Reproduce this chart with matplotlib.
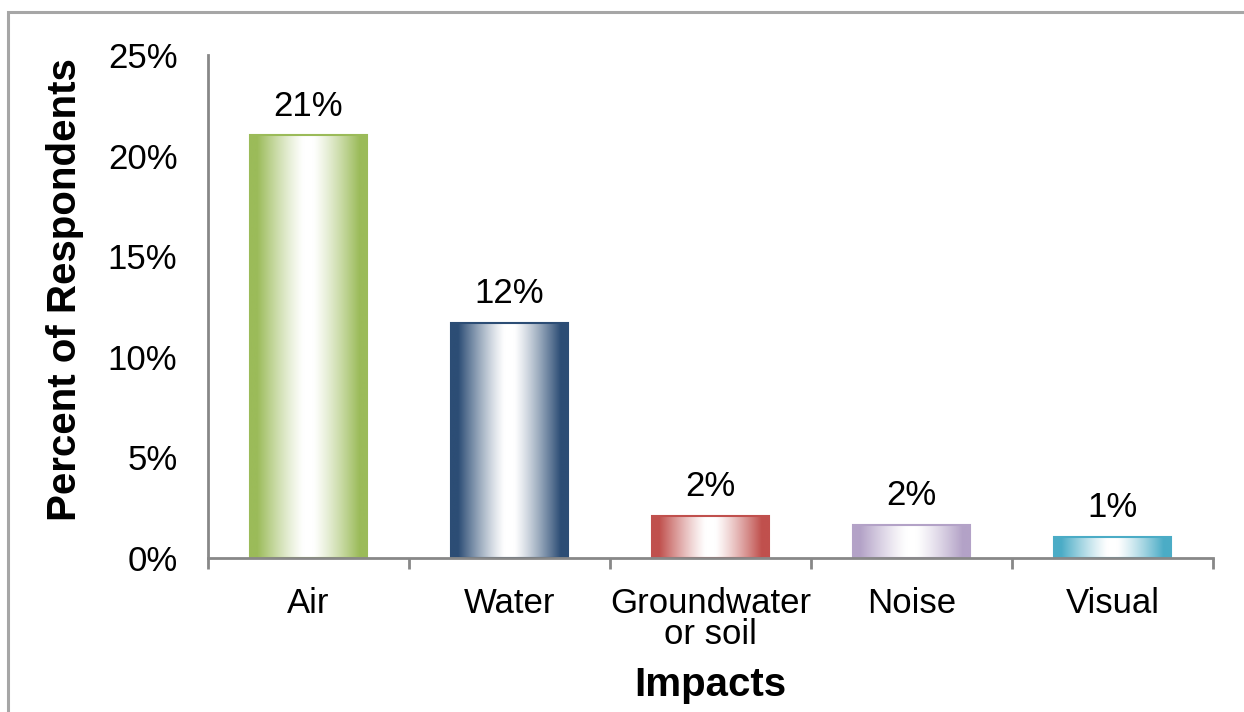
import numpy as np
import matplotlib.pyplot as plt
from matplotlib.colors import to_rgb
from matplotlib.patches import Rectangle

plt.rcParams['font.family'] = ['Liberation Sans', 'DejaVu Sans']

impacts = ['Air', 'Water', 'Groundwater\nor soil', 'Noise', 'Visual']
share = [0.21, 0.117, 0.021, 0.0165, 0.0105]
bar_colors = ['#9BBB59', '#2C4D75', '#C0504D', '#B3A2C7', '#4BACC6']

fig = plt.figure(figsize=(12.44, 7.12), dpi=100)
ax = fig.add_axes([0.1672, 0.2163, 0.8078, 0.7065])

# frame around the whole chart area
fig.patches.append(Rectangle((8 / 1244, -0.1), 1.2, (712 - 12) / 712 + 0.1,
                             transform=fig.transFigure, fill=False,
                             edgecolor='#A6A6A6', linewidth=2.2, zorder=0))

x = np.arange(len(impacts))
width = 0.58
bars = ax.bar(x, share, width=width, color='none', edgecolor='none')

# horizontal "cylinder" shading: colour at the edges, white in the middle
u = np.linspace(0, 1, 256)
t = np.abs(u - 0.5) * 2
mix = np.clip((t - 0.08) / 0.8, 0, 1) ** 1.2
for b, c in zip(bars, bar_colors):
    rgb = np.array(to_rgb(c))
    grad = (1 - mix[:, None]) * np.ones(3) + mix[:, None] * rgb
    img = grad[None, :, :]
    x0, y0 = b.get_x(), b.get_y()
    w, h = b.get_width(), b.get_height()
    im = ax.imshow(img, extent=[x0, x0 + w, y0, y0 + h], aspect='auto',
                   interpolation='bilinear', zorder=2)
    im.set_clip_path(b)
    ax.add_patch(Rectangle((x0, y0), w, h, fill=False, edgecolor=rgb,
                           linewidth=1.5, zorder=3))
    ax.annotate(f'{b.get_height():.0%}', (x0 + w / 2, y0 + h),
                xytext=(0, 9), textcoords='offset points',
                ha='center', va='bottom', fontsize=25)

ax.set_xlim(-0.5, len(impacts) - 0.5)
ax.set_ylim(0, 0.25)
ax.set_yticks(np.arange(0, 0.26, 0.05))
ax.set_yticklabels([f'{v:.0%}' for v in np.arange(0, 0.26, 0.05)])
ax.set_xticks(x)
ax.set_xticklabels(impacts, linespacing=0.92)
ax.set_xticks(np.arange(-0.5, len(impacts)), minor=True)
ax.tick_params(axis='x', which='major', length=0, pad=21, labelsize=25)
ax.tick_params(axis='x', which='minor', length=8, width=2, color='#888888',
               direction='out')
ax.tick_params(axis='y', length=0, pad=22, labelsize=25)

for sp in ['top', 'right']:
    ax.spines[sp].set_visible(False)
for sp in ['left', 'bottom']:
    ax.spines[sp].set_color('#888888')
    ax.spines[sp].set_linewidth(2)
    ax.spines[sp].set_zorder(4)

ax.set_xlabel('Impacts', fontsize=29, fontweight='bold', labelpad=11)
ax.set_ylabel('Percent of Respondents', fontsize=29, fontweight='bold')
ax.yaxis.set_label_coords(-0.123, 0.533)

fig.savefig('out.png', dpi=100)
